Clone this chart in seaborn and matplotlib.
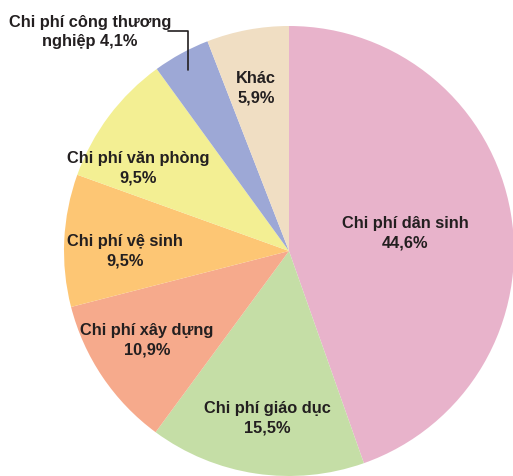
import matplotlib
matplotlib.use("Agg")
import matplotlib.pyplot as plt
import seaborn as sns

# data
categories = ["Chi phí dân sinh", "Chi phí giáo dục", "Chi phí xây dựng",
              "Chi phí vệ sinh", "Chi phí văn phòng", "Chi phí công thương nghiệp", "Khác"]
values = [44.6, 15.5, 10.9, 9.5, 9.5, 4.1, 5.9]
colors = ["#e8b3cb", "#c5dea6", "#f6aa8c", "#fdc674", "#f3ef93", "#9da8d6", "#f0dec3"]

sns.set_theme(style="white")
plt.rcParams["font.family"] = ["Liberation Sans", "DejaVu Sans"]

W, H, DPI = 513, 477, 100
CX, CY, R = 289, 252, 225  # pie centre and radius in pixels

fig = plt.figure(figsize=(W / DPI, H / DPI), dpi=DPI)
ax = fig.add_axes([0, 0, 1, 1])
ax.pie(values, colors=colors, startangle=90, counterclock=False, radius=1,
       wedgeprops=dict(linewidth=0))
ax.set_xlim(-CX / R, (W - CX) / R)
ax.set_ylim(-(H - CY) / R, CY / R)
ax.set_aspect("equal")
ax.axis("off")


def fmt(v):
    return f"{v:.1f}".replace(".", ",") + "%"


# label positions (pixel coords in reference)
label_pos = [(405, 233), (267, 418), (147, 340), (125, 251), (138, 168), (90, 32), (256, 88)]
for i, (name, v) in enumerate(zip(categories, values)):
    px, py = label_pos[i]
    if name == "Chi phí công thương nghiệp":
        txt = "Chi phí công thương\nnghiệp " + fmt(v)
    else:
        txt = name + "\n" + fmt(v)
    ax.text((px - CX) / R, (CY - py) / R, txt, ha="center", va="center",
            fontsize=11.8, fontweight="bold", color="#231f20", linespacing=1.35)

# leader line for the small slice
lx = [(168 - CX) / R, (188 - CX) / R, (188 - CX) / R]
ly = [(CY - 32) / R, (CY - 32) / R, (CY - 71) / R]
ax.plot(lx, ly, color="#231f20", linewidth=1.2)

fig.savefig("out.png", dpi=DPI)
